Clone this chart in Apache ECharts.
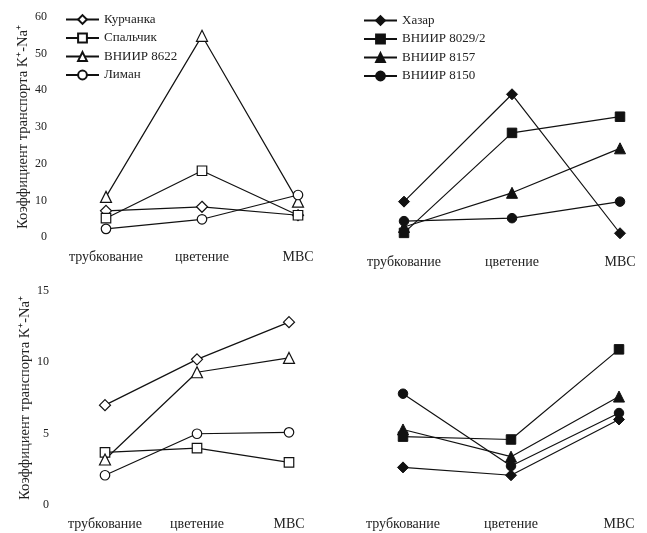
<!DOCTYPE html>
<html>
<head>
<meta charset="utf-8">
<script src="https://cdn.jsdelivr.net/npm/echarts@6/dist/echarts.min.js"></script>
<style>html,body{margin:0;padding:0;background:#fff}#c{width:647px;height:533px}</style>
</head>
<body>
<div id="c"></div>
<script>
// ---- data ----
var categories = ['трубкование', 'цветение', 'МВС'];
var yName = 'Коэффициент транспорта K\u207A-Na\u207A';

// top-left (open markers)
var namesOpen = ['Курчанка', 'Спальчик', 'ВНИИР 8622', 'Лиман'];
var tlKurchanka = [7.2, 8.3, 6.0];
var tlSpalchik = [5.2, 18.1, 6.0];
var tlVniir8622 = [11.0, 54.8, 9.7];
var tlLiman = [2.3, 4.9, 11.5];

// top-right (filled markers)
var namesFilled = ['Хазар', 'ВНИИР 8029/2', 'ВНИИР 8157', 'ВНИИР 8150'];
var trHazar = [9.7, 38.9, 1.1];
var trVniir8029 = [1.2, 28.4, 32.8];
var trVniir8157 = [2.8, 12.1, 24.2];
var trVniir8150 = [4.4, 5.2, 9.7];

// bottom-left
var blKurchanka = [7.0, 10.2, 12.8];
var blSpalchik = [3.7, 4.0, 3.0];
var blVniir8622 = [3.2, 9.3, 10.3];
var blLiman = [2.1, 5.0, 5.1];

// bottom-right
var brHazar = [2.65, 2.1, 6.0];
var brVniir8029 = [4.8, 4.6, 10.9];
var brVniir8157 = [5.3, 3.4, 7.6];
var brVniir8150 = [7.8, 2.75, 6.45];

var topTicks = [0, 60, 10];
var bottomTicks = [0, 15, 5];

// ---- styles ----
var FONT = 'Liberation Serif';
var diamond = 'path://M0,-1L1,0L0,1L-1,0Z';
var symbols = [diamond, 'rect', 'triangle', 'circle'];
var symSizes = [11, 9.5, 11, 9.5];

function mkSeries(name, data, idx, gi, filled) {
  return {
    name: name, type: 'line', data: data,
    xAxisIndex: gi, yAxisIndex: gi,
    symbol: symbols[idx], symbolSize: symSizes[idx], symbolKeepAspect: true,
    showSymbol: true, animation: false, z: 3,
    lineStyle: {color: '#111', width: 1.2},
    itemStyle: filled ? {color: '#111', borderColor: '#111', borderWidth: 1}
                      : {color: '#fff', borderColor: '#111', borderWidth: 1.2}
  };
}

var grids = [
  {left: 106, top: 16.7, width: 192, height: 220.6},
  {left: 404, top: 16.7, width: 216, height: 220.6},
  {left: 105, top: 290.7, width: 184, height: 214.6},
  {left: 403, top: 290.7, width: 216, height: 214.6}
];
var labelMargins = [13, 18, 12, 12];

var xAxes = grids.map(function (g, i) {
  return {
    gridIndex: i, type: 'category', data: categories, boundaryGap: false,
    axisLine: {show: false}, axisTick: {show: false}, splitLine: {show: false},
    axisLabel: {margin: labelMargins[i], fontFamily: FONT, fontSize: 14, color: '#222', interval: 0}
  };
});

function mkY(i, ticks, showLabels, margin, gap) {
  return {
    gridIndex: i, type: 'value', min: ticks[0], max: ticks[1], interval: ticks[2],
    show: true,
    axisLine: {show: false}, axisTick: {show: false}, splitLine: {show: false},
    axisLabel: {show: showLabels, margin: margin, fontFamily: FONT, fontSize: 12, color: '#222'},
    name: showLabels ? yName : '', nameLocation: 'middle', nameGap: gap,
    nameTextStyle: {fontFamily: FONT, fontSize: 14.5, color: '#222'}
  };
}
var yAxes = [
  mkY(0, topTicks, true, 59, 72),
  mkY(1, topTicks, false, 0, 0),
  mkY(2, bottomTicks, true, 56, 71),
  mkY(3, bottomTicks, false, 0, 0)
];

var series = [];
[tlKurchanka, tlSpalchik, tlVniir8622, tlLiman].forEach(function (d, k) { series.push(mkSeries(namesOpen[k], d, k, 0, false)); });
[trHazar, trVniir8029, trVniir8157, trVniir8150].forEach(function (d, k) { series.push(mkSeries(namesFilled[k], d, k, 1, true)); });
[blKurchanka, blSpalchik, blVniir8622, blLiman].forEach(function (d, k) { series.push(mkSeries(namesOpen[k], d, k, 2, false)); });
[brHazar, brVniir8029, brVniir8157, brVniir8150].forEach(function (d, k) { series.push(mkSeries(namesFilled[k], d, k, 3, true)); });

var legendText = {fontFamily: FONT, fontSize: 13, color: '#222'};
var option = {
  backgroundColor: '#fff',
  animation: false,
  grid: grids,
  xAxis: xAxes,
  yAxis: yAxes,
  legend: [
    {data: namesOpen, orient: 'vertical', left: 65, top: 13, padding: 0, itemWidth: 33, itemHeight: 11, itemGap: 5.5,
     textStyle: legendText, selectedMode: false},
    {data: namesFilled, orient: 'vertical', left: 363, top: 14, padding: 0, itemWidth: 33, itemHeight: 11, itemGap: 5.5,
     textStyle: legendText, selectedMode: false}
  ],
  series: series
};
var chart = echarts.init(document.getElementById('c'), null, {renderer: 'canvas'});
chart.setOption(option);
</script>
</body>
</html>
